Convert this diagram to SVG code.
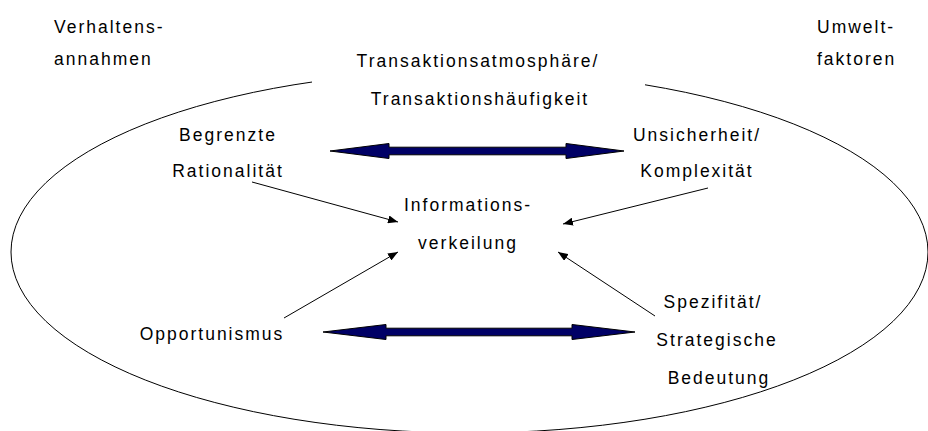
<svg xmlns="http://www.w3.org/2000/svg" width="928" height="431" viewBox="0 0 928 431">
<style>
text{font-family:"Liberation Sans",Arial,sans-serif;font-size:17.5px;letter-spacing:2px;fill:#000}
.c{text-anchor:middle}
.thin{stroke:#000;stroke-width:1;fill:none}
.big{fill:#000066;stroke:#000;stroke-width:1;stroke-linejoin:miter}
</style>
<defs>
<marker id="ah" viewBox="0 0 10 8" refX="10" refY="4" markerWidth="10" markerHeight="8" markerUnits="userSpaceOnUse" orient="auto">
<path d="M0,0 L10,4 L0,8 Z" fill="#000"/>
</marker>
</defs>
<rect width="928" height="431" fill="#fff"/>
<ellipse id="frame" cx="469.5" cy="252" rx="458.5" ry="181" fill="none" stroke="#000" stroke-width="1"/>
<g id="connectors">
<path class="big" d="M330,151 L389,143.5 L389,147.2 L566,147.2 L566,143.5 L624,151 L566,158.5 L566,154.8 L389,154.8 L389,158.5 Z"/>
<path class="big" d="M323,332 L386,324.5 L386,328.2 L572,328.2 L572,324.5 L635,332 L572,339.5 L572,335.8 L386,335.8 L386,339.5 Z"/>
<line class="thin" x1="252" y1="182" x2="398" y2="222" marker-end="url(#ah)"/>
<line class="thin" x1="284" y1="318" x2="398" y2="252" marker-end="url(#ah)"/>
<line class="thin" x1="708" y1="188" x2="563" y2="224" marker-end="url(#ah)"/>
<line class="thin" x1="655" y1="316" x2="558" y2="252" marker-end="url(#ah)"/>
</g>
<g id="verhaltensannahmen">
<text x="54" y="33">Verhaltens-</text>
<text x="54" y="65">annahmen</text>
</g>
<g id="umweltfaktoren">
<text x="817" y="33">Umwelt-</text>
<text x="817" y="65">faktoren</text>
</g>
<g id="transaktionsatmosphaere">
<rect x="312" y="44" width="333" height="70" fill="#fff"/>
<text class="c" x="478" y="67">Transaktionsatmosphäre/</text>
<text class="c" x="480" y="105">Transaktionshäufigkeit</text>
</g>
<g id="begrenzte-rationalitaet">
<text class="c" x="228" y="141">Begrenzte</text>
<text class="c" x="228" y="177">Rationalität</text>
</g>
<g id="unsicherheit-komplexitaet">
<text class="c" x="697" y="141">Unsicherheit/</text>
<text class="c" x="697" y="177">Komplexität</text>
</g>
<g id="informationsverteilung">
<text class="c" x="468" y="211">Informations-</text>
<text class="c" x="468" y="249">verkeilung</text>
</g>
<g id="opportunismus">
<text class="c" x="212" y="340">Opportunismus</text>
</g>
<g id="spezifitaet">
<text class="c" x="713" y="308">Spezifität/</text>
<text class="c" x="717" y="346">Strategische</text>
<text class="c" x="719" y="384">Bedeutung</text>
</g>
</svg>
